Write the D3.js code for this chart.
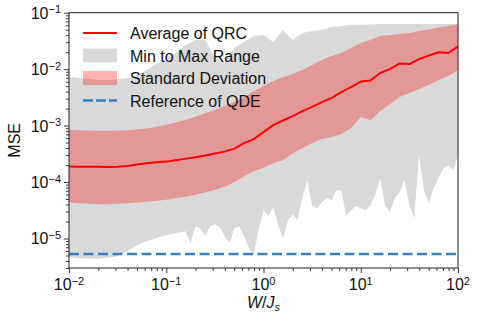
<!DOCTYPE html>
<html>
<head>
<meta charset="utf-8">
<script src="https://cdn.jsdelivr.net/npm/d3@7"></script>
<style>
body { margin: 0; background: #fff; }
svg { display: block; font-family: "Liberation Sans", Arial, sans-serif; }
</style>
</head>
<body>
<div id="chart"></div>
<script>

// sample positions, log10(W/Js), 0.1 decade apart
var logW = [-2, -1.9, -1.8, -1.7, -1.6, -1.5, -1.4, -1.3, -1.2, -1.1,
	-1, -0.9, -0.8, -0.7, -0.6, -0.5, -0.4, -0.3, -0.2, -0.1,
	0, 0.1, 0.2, 0.3, 0.4, 0.5, 0.6, 0.7, 0.8, 0.9,
	1, 1.1, 1.2, 1.3, 1.4, 1.5, 1.6, 1.7, 1.8, 1.9, 2];

var meanMSE = [1.88e-4, 1.87e-4, 1.86e-4, 1.86e-4, 1.85e-4, 1.86e-4, 1.93e-4, 2.05e-4, 2.15e-4, 2.25e-4,
	2.30e-4, 2.44e-4, 2.60e-4, 2.76e-4, 2.94e-4, 3.19e-4, 3.46e-4, 3.91e-4, 4.90e-4, 5.77e-4,
	7.67e-4, 1.02e-3, 1.23e-3, 1.47e-3, 1.81e-3, 2.15e-3, 2.61e-3, 3.08e-3, 3.93e-3, 4.82e-3,
	6.03e-3, 6.28e-3, 8.53e-3, 1.00e-2, 1.26e-2, 1.23e-2, 1.51e-2, 1.74e-2, 1.99e-2, 1.93e-2, 2.52e-2];

var stdHigh = [8.4e-4, 8.3e-4, 8.2e-4, 8.1e-4, 8.1e-4, 8.2e-4, 8.3e-4, 8.5e-4, 8.9e-4, 9.5e-4,
	1.03e-3, 1.14e-3, 1.26e-3, 1.43e-3, 1.65e-3, 1.88e-3, 2.22e-3, 2.61e-3, 3.20e-3, 4.09e-3,
	5.01e-3, 6.15e-3, 7.24e-3, 8.18e-3, 9.64e-3, 1.18e-2, 1.45e-2, 1.71e-2, 1.93e-2, 2.37e-2,
	2.90e-2, 3.28e-2, 3.86e-2, 4.03e-2, 4.19e-2, 4.36e-2, 4.74e-2, 5.04e-2, 5.47e-2, 5.81e-2, 6.18e-2];

var stdLow = [4.32e-5, 4.23e-5, 4.14e-5, 4.06e-5, 4.06e-5, 4.14e-5, 4.23e-5, 4.32e-5, 4.49e-5, 4.68e-5,
	4.88e-5, 5.19e-5, 5.51e-5, 5.98e-5, 6.62e-5, 7.33e-5, 8.28e-5, 9.95e-5, 1.27e-4, 1.56e-4,
	1.80e-4, 2.16e-4, 2.44e-4, 3.25e-4, 3.99e-4, 4.90e-4, 5.77e-4, 6.25e-4, 7.07e-4, 9.04e-4,
	1.42e-3, 1.25e-3, 1.81e-3, 2.40e-3, 3.20e-3, 3.77e-3, 4.44e-3, 5.22e-3, 6.41e-3, 7.55e-3, 9.64e-3];

var maxMSE = [7.24e-3, 6.95e-3, 6.67e-3, 6.41e-3, 6.41e-3, 6.67e-3, 6.95e-3, 7.85e-3, 9.64e-3, 1.23e-2,
	1.45e-2, 1.93e-2, 2.67e-2, 3.28e-2, 3.28e-2, 1.57e-2, 1.34e-2, 2.37e-2, 3.02e-2, 3.86e-2,
	4.03e-2, 3.02e-2, 4.94e-2, 3.28e-2, 4.36e-2, 4.74e-2, 4.94e-2, 5.58e-2, 5.81e-2, 6.05e-2,
	6.18e-2, 6.18e-2, 6.31e-2, 6.31e-2, 6.31e-2, 6.31e-2, 6.31e-2, 6.31e-2, 6.31e-2, 6.31e-2, 6.31e-2];

// the minimum is much more jagged, read at 0.05 decade steps
var logWFine = [-2, -1.95, -1.9, -1.85, -1.8, -1.75, -1.7, -1.65, -1.6, -1.55,
	-1.5, -1.45, -1.4, -1.35, -1.3, -1.25, -1.2, -1.15, -1.1, -1.05,
	-1, -0.95, -0.9, -0.85, -0.8, -0.75, -0.7, -0.65, -0.6, -0.55,
	-0.5, -0.45, -0.4, -0.35, -0.3, -0.25, -0.2, -0.15, -0.1, -0.05,
	0, 0.05, 0.1, 0.15, 0.2, 0.25, 0.3, 0.35, 0.4, 0.45,
	0.5, 0.55, 0.6, 0.65, 0.7, 0.75, 0.8, 0.85, 0.9, 0.95,
	1, 1.05, 1.1, 1.15, 1.2, 1.25, 1.3, 1.35, 1.4, 1.45,
	1.5, 1.55, 1.6, 1.65, 1.7, 1.75, 1.8, 1.85, 1.9, 1.95, 2];

var minMSE = [4.66e-6, 4.57e-6, 4.48e-6, 4.48e-6, 4.39e-6, 4.39e-6, 4.39e-6, 4.48e-6, 4.57e-6, 4.66e-6,
	4.85e-6, 5.48e-6, 5.96e-6, 6.73e-6, 7.60e-6, 8.26e-6, 8.96e-6, 9.53e-6, 1.01e-5, 1.08e-5,
	1.15e-5, 1.19e-5, 1.24e-5, 1.29e-5, 1.35e-5, 8.26e-6, 1.65e-5, 1.52e-5, 1.10e-5, 1.65e-5,
	1.79e-5, 1.58e-5, 1.10e-5, 8.26e-6, 1.52e-5, 1.65e-5, 1.10e-5, 6.73e-6, 5.26e-6, 1.40e-5,
	3.18e-5, 2.48e-5, 3.59e-5, 1.72e-5, 1.01e-5, 2.11e-5, 2.70e-5, 2.11e-5, 5.40e-5, 1.08e-4,
	3.89e-5, 3.44e-5, 4.41e-5, 5.19e-5, 4.78e-5, 7.18e-5, 7.18e-5, 2.59e-5, 3.18e-5, 3.74e-5,
	3.44e-5, 3.18e-5, 3.89e-5, 5.86e-5, 1.17e-4, 3.89e-5, 2.92e-5, 5.19e-5, 6.62e-5, 1.08e-4,
	3.89e-5, 2.29e-5, 3.00e-4, 7.18e-5, 4.23e-5, 7.80e-5, 1.17e-4, 1.76e-4, 2.00e-4, 1.63e-4, 2.88e-4];

var qdeMSE = 5.3e-6;

var xTickExp = [-2, -1, 0, 1, 2];
var yTickExp = [-5, -4, -3, -2, -1];

var legendLabels = ["Average of QRC", "Min to Max Range", "Standard Deviation", "Reference of QDE"];


var width = 479, height = 322;
var margin = { top: 12.7, right: 21, bottom: 54, left: 69 };

var svg = d3.select("#chart")
	.append("svg")
	.attr("width", width)
	.attr("height", height);

var x = d3.scaleLog()
	.domain([1e-2, 1e2])
	.range([margin.left, width - margin.right]);

var y = d3.scaleLog()
	.domain([3e-6, 1e-1])
	.range([height - margin.bottom, margin.top]);

svg.append("clipPath")
	.attr("id", "plotclip")
	.append("rect")
	.attr("x", margin.left)
	.attr("y", margin.top)
	.attr("width", width - margin.left - margin.right)
	.attr("height", height - margin.top - margin.bottom);

var plot = svg.append("g").attr("clip-path", "url(#plotclip)");

// min-max band: max forwards, min backwards
var maxPts = logW.map(function(lw, i) { return [x(Math.pow(10, lw)), y(maxMSE[i])]; });
var minPts = logWFine.map(function(lw, i) { return [x(Math.pow(10, lw)), y(minMSE[i])]; });

plot.append("path")
	.attr("d", d3.line()(maxPts.concat(minPts.reverse())) + "Z")
	.attr("fill", "rgb(128,128,128)")
	.attr("fill-opacity", 0.3);

var stdArea = d3.area()
	.x(function(d, i) { return x(Math.pow(10, logW[i])); })
	.y0(function(d, i) { return y(stdLow[i]); })
	.y1(function(d, i) { return y(stdHigh[i]); });

plot.append("path")
	.attr("d", stdArea(logW))
	.attr("fill", "red")
	.attr("fill-opacity", 0.3);

plot.append("line")
	.attr("x1", margin.left)
	.attr("x2", width - margin.right)
	.attr("y1", y(qdeMSE))
	.attr("y2", y(qdeMSE))
	.attr("stroke", "#3a7fc1")
	.attr("stroke-width", 2.4)
	.attr("stroke-dasharray", "10,4.5");

var meanLine = d3.line()
	.x(function(d, i) { return x(Math.pow(10, logW[i])); })
	.y(function(d) { return y(d); });

plot.append("path")
	.attr("d", meanLine(meanMSE))
	.attr("fill", "none")
	.attr("stroke", "red")
	.attr("stroke-width", 2)
	.attr("stroke-linejoin", "round");

// axes
function minorTicks(lo, hi) {
	var out = [];
	for (var e = lo; e <= hi; e++) {
		for (var k = 2; k <= 9; k++) out.push(k * Math.pow(10, e));
	}
	return out;
}

var xMajor = xTickExp.map(function(e) { return Math.pow(10, e); });
var yMajor = yTickExp.map(function(e) { return Math.pow(10, e); });

var gx = svg.append("g")
	.attr("transform", "translate(0," + (height - margin.bottom) + ")");

gx.append("g")
	.call(d3.axisBottom(x).tickValues(minorTicks(-2, 1)).tickSize(3).tickFormat(""));
gx.append("g")
	.attr("class", "major")
	.call(d3.axisBottom(x).tickValues(xMajor).tickSize(5).tickFormat(""));

var gy = svg.append("g")
	.attr("transform", "translate(" + margin.left + ",0)");

gy.append("g")
	.call(d3.axisLeft(y).tickValues(minorTicks(-6, -2).filter(function(v) { return v >= 3e-6; })).tickSize(3).tickFormat(""));
gy.append("g")
	.attr("class", "major")
	.call(d3.axisLeft(y).tickValues(yMajor).tickSize(5).tickFormat(""));

svg.selectAll(".domain").remove();
svg.selectAll(".tick line").attr("stroke", "#222").attr("stroke-width", 0.9);

function powLabel(sel, e) {
	sel.append("tspan").text("10");
	sel.append("tspan")
		.attr("dy", "-0.5em")
		.attr("font-size", "11px")
		.text(e < 0 ? "\u2212" + Math.abs(e) : String(e));
}

xTickExp.forEach(function(e) {
	var t = gx.append("text")
		.attr("x", x(Math.pow(10, e)))
		.attr("y", 22)
		.attr("text-anchor", "middle")
		.attr("font-size", "16px")
		.attr("fill", "#111");
	powLabel(t, e);
});

yTickExp.forEach(function(e) {
	var t = gy.append("text")
		.attr("x", -8)
		.attr("y", y(Math.pow(10, e)) + 6)
		.attr("text-anchor", "end")
		.attr("font-size", "16px")
		.attr("fill", "#111");
	powLabel(t, e);
});

// frame
svg.append("rect")
	.attr("x", margin.left)
	.attr("y", margin.top)
	.attr("width", width - margin.left - margin.right)
	.attr("height", height - margin.top - margin.bottom)
	.attr("fill", "none")
	.attr("stroke", "#222")
	.attr("stroke-width", 1);

svg.append("text")
	.attr("transform", "translate(20," + ((margin.top + height - margin.bottom) / 2) + ") rotate(-90)")
	.attr("text-anchor", "middle")
	.attr("font-size", "16px")
	.attr("fill", "#111")
	.text("MSE");

var xl = svg.append("text")
	.attr("x", (margin.left + width - margin.right) / 2)
	.attr("y", 308)
	.attr("text-anchor", "middle")
	.attr("font-size", "16px")
	.attr("fill", "#111");
xl.append("tspan").attr("font-style", "italic").text("W");
xl.append("tspan").text("/");
xl.append("tspan").attr("font-style", "italic").text("J");
xl.append("tspan").attr("font-style", "italic").attr("font-size", "11px").attr("dy", "3").text("s");

// legend, no frame, drawn straight over the plot
var legend = svg.append("g");
var rowY = [33, 55.5, 78, 100.5];

legend.append("line")
	.attr("x1", 83).attr("x2", 117)
	.attr("y1", rowY[0]).attr("y2", rowY[0])
	.attr("stroke", "red").attr("stroke-width", 2);

legend.append("rect")
	.attr("x", 83).attr("y", rowY[1] - 7)
	.attr("width", 34).attr("height", 14)
	.attr("fill", "rgb(128,128,128)").attr("fill-opacity", 0.3);

legend.append("rect")
	.attr("x", 83).attr("y", rowY[2] - 7)
	.attr("width", 34).attr("height", 14)
	.attr("fill", "red").attr("fill-opacity", 0.3);

legend.append("line")
	.attr("x1", 83).attr("x2", 117)
	.attr("y1", rowY[3]).attr("y2", rowY[3])
	.attr("stroke", "#3a7fc1").attr("stroke-width", 2.4)
	.attr("stroke-dasharray", "10,3");

legend.selectAll("text.lab")
	.data(legendLabels)
	.enter()
	.append("text")
	.attr("class", "lab")
	.attr("x", 130)
	.attr("y", function(d, i) { return rowY[i] + 6; })
	.attr("font-size", "16px")
	.attr("fill", "#111")
	.text(function(d) { return d; });

</script>
</body>
</html>
